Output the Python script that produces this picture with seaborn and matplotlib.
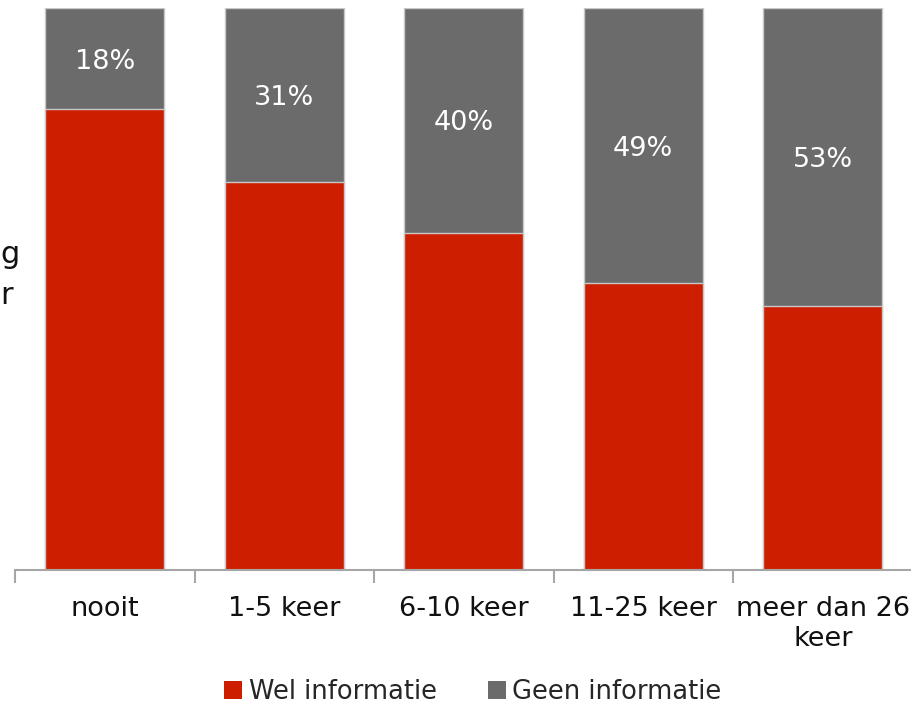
import numpy as np
import pandas as pd
import matplotlib
matplotlib.use("Agg")
import matplotlib.pyplot as plt
import seaborn as sns
from matplotlib.patches import Patch
from matplotlib.ticker import FixedLocator

categories = ["nooit", "1-5 keer", "6-10 keer", "11-25 keer", "meer dan 26\nkeer"]
geen = [18, 31, 40, 49, 53]
wel = [100 - g for g in geen]
labels = [f"{g}%" for g in geen]

RED = "#CD1F00"
GRAY = "#6B6B6B"
EDGE = "#C8C8C8"

sns.set_theme(style="white")
plt.rcParams["font.family"] = ["DejaVu Sans"]

fig = plt.figure(figsize=(9.11, 7.08), dpi=100)
ax = fig.add_axes([15 / 911, 1 - 570 / 708, 897.5 / 911, (570 - 8) / 708])

df = pd.DataFrame({"cat": categories, "wel": wel, "geen": geen,
                   "total": [w + g for w, g in zip(wel, geen)]})

sns.barplot(data=df, x="cat", y="total", color=GRAY, width=0.665,
            edgecolor=EDGE, linewidth=1.0, saturation=1, ax=ax)
sns.barplot(data=df, x="cat", y="wel", color=RED, width=0.665,
            edgecolor=EDGE, linewidth=1.0, saturation=1, ax=ax)

for i, (w, g, lab) in enumerate(zip(wel, geen, labels)):
    ax.text(i, w + g / 2, lab, ha="center", va="center_baseline", color="white",
            fontsize=19.5)

ax.set_ylim(0, 100)
ax.set_xlim(-0.5, len(categories) - 0.5)
ax.set_yticks([])
ax.set_xlabel("")
ax.set_ylabel("")
ax.tick_params(axis="x", which="major", bottom=False, length=0, labelsize=19.5,
               pad=19, labelcolor="#111111")
ax.xaxis.set_minor_locator(FixedLocator(np.arange(-0.5, len(categories), 1.0)))
ax.tick_params(axis="x", which="minor", bottom=True, length=9, width=1.5,
               color="#A6A6A6", direction="out")
for s in ["left", "right", "top"]:
    ax.spines[s].set_visible(False)
ax.spines["bottom"].set_color("#A6A6A6")
ax.spines["bottom"].set_linewidth(1.5)

# Partially visible axis-title text at the left edge
fig.text(0 / 911, 1 - 255 / 708, "g", ha="left", va="center", fontsize=22,
         color="#111111")
fig.text(0 / 911, 1 - 295 / 708, "r", ha="left", va="center", fontsize=22,
         color="#111111")

handles = [Patch(facecolor=RED, edgecolor="none", label="Wel informatie"),
           Patch(facecolor=GRAY, edgecolor="none", label="Geen informatie")]
fig.legend(handles=handles, loc="center", bbox_to_anchor=(473 / 911, 1 - 692 / 708),
           ncol=2, frameon=False, fontsize=18.5, handlelength=0.7, handleheight=0.7,
           handletextpad=0.25, columnspacing=2.0)

fig.savefig("out.png", dpi=100)
